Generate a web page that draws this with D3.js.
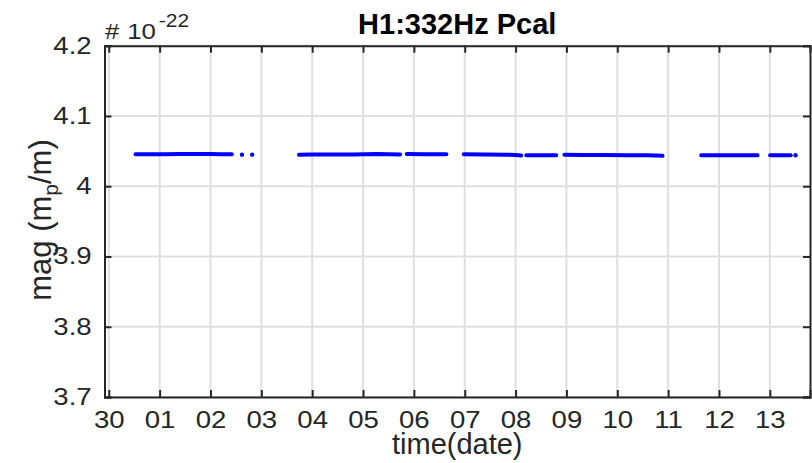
<!DOCTYPE html>
<html><head><meta charset="utf-8">
<script src="https://cdn.jsdelivr.net/npm/d3@7"></script>
<style>body{margin:0;background:#fff}svg{display:block}text{font-family:"Liberation Sans",Arial,Helvetica,sans-serif;fill:#262626}</style>
</head><body>
<script>
// days since Apr 30
const tickDays = [0,1,2,3,4,5,6,7,8,9,10,11,12,13];
const tickLabels = ["30","01","02","03","04","05","06","07","08","09","10","11","12","13"];
const yTicks = [3.7,3.8,3.9,4.0,4.1,4.2];
const yTickLabels = ["3.7","3.8","3.9","4","4.1","4.2"];
// segments of dense data (day, magnitude x1e-22)
const seg1 = [[0.525,4.0454],[0.8,4.0455],[1.1,4.0456],[1.4,4.0458],[1.74,4.0460],[2.0,4.0457],[2.2,4.0455],[2.42,4.0454]];
const seg2 = [[3.74,4.0449],[4.0,4.0451],[4.4,4.0452],[4.8,4.0453],[5.28,4.0458],[5.5,4.0455],[5.73,4.0452]];
const seg3 = [[5.86,4.0458],[6.2,4.0456],[6.64,4.0454]];
const seg4 = [[6.98,4.0454],[7.4,4.0453],[7.8,4.0449],[8.0,4.0444],[8.11,4.0436]];
const seg5 = [[8.21,4.0441],[8.5,4.0441],[8.80,4.0440]];
const seg6 = [[8.96,4.0447],[9.3,4.0444],[9.7,4.0443],[10.2,4.0442],[10.6,4.0440],[10.89,4.0432]];
const seg7 = [[11.65,4.0440],[12.0,4.0441],[12.4,4.0441],[12.76,4.0442]];
const seg8 = [[13.005,4.0440],[13.2,4.0440],[13.41,4.0440]];
const isolated = [[2.62,4.0449],[2.82,4.0449],[13.505,4.0440]];
const segments = [seg1,seg2,seg3,seg4,seg5,seg6,seg7,seg8];

const W=812,H=463;
const L=104.5,R=810,T=45.7,B=397;
const SX=1.2;
const x=d3.scaleLinear().domain([-0.084,13.79]).range([L,R]);
const y=d3.scaleLinear().domain([3.7,4.2]).range([B,T]);
const svg=d3.select("body").append("svg").attr("width",W).attr("height",H);

// grid
svg.append("g").selectAll("line").data(tickDays).join("line")
 .attr("x1",d=>x(d)).attr("x2",d=>x(d)).attr("y1",T).attr("y2",B)
 .attr("stroke","#dfdfdf").attr("stroke-width",2);
svg.append("g").selectAll("line").data(yTicks).join("line")
 .attr("y1",d=>y(d)).attr("y2",d=>y(d)).attr("x1",L).attr("x2",R)
 .attr("stroke","#dfdfdf").attr("stroke-width",2);

// data
const line=d3.line().x(d=>x(d[0])).y(d=>y(d[1]));
svg.append("g").selectAll("path").data(segments).join("path")
 .attr("d",line).attr("fill","none").attr("stroke","#0000ff")
 .attr("stroke-width",4).attr("stroke-linecap","round");
svg.append("g").selectAll("circle").data(isolated).join("circle")
 .attr("cx",d=>x(d[0])).attr("cy",d=>y(d[1])).attr("r",2.2).attr("fill","#0000ff");

// axes
const fs=23;
const xb=d3.axisBottom(x).tickValues(tickDays).tickFormat((d,i)=>tickLabels[i]).tickSize(-7).tickPadding(15);
const gx=svg.append("g").attr("transform",`translate(0,${B})`).call(xb);
const xt=d3.axisTop(x).tickValues(tickDays).tickFormat("").tickSize(-7);
const gxt=svg.append("g").attr("transform",`translate(0,${T})`).call(xt);
const yl=d3.axisLeft(y).tickValues(yTicks).tickFormat((d,i)=>yTickLabels[i]).tickSize(-7);
const gy=svg.append("g").attr("transform",`translate(${L},0)`).call(yl);
const yr=d3.axisRight(y).tickValues(yTicks).tickFormat("").tickSize(-7);
const gyr=svg.append("g").attr("transform",`translate(${R},0)`).call(yr);
[gx,gxt,gy,gyr].forEach(g=>{
  g.select(".domain").attr("stroke","#262626").attr("stroke-width",2);
  g.selectAll(".tick line").attr("stroke","#262626").attr("stroke-width",2);
  g.selectAll("text").attr("font-size",fs).attr("fill","#262626").style("font-family","Liberation Sans, Arial, sans-serif");
});
gx.selectAll(".tick text").attr("transform",`scale(${SX},1)`);
gy.selectAll(".tick text").attr("x",-12.8/SX).attr("transform",`scale(${SX},1)`);

// title
svg.append("text").attr("x",(L+R)/2).attr("y",34.3).attr("text-anchor","middle")
 .attr("font-size",29).attr("font-weight","bold").style("fill","#000").text("H1:332Hz Pcal");
// x label
svg.append("text").attr("x",(L+R)/2).attr("y",454).attr("text-anchor","middle")
 .attr("font-size",29).text("time(date)");
// y label
const ylab=svg.append("text").attr("transform",`translate(51,220) rotate(-90)`).attr("text-anchor","middle").attr("font-size",31);
ylab.append("tspan").text("mag (m");
ylab.append("tspan").attr("font-size",21).attr("dy",7).text("p");
ylab.append("tspan").attr("dy",-7).text("/m)");
// exponent
const ex=svg.append("text").attr("transform",`translate(105,39.3) scale(${SX},1)`).attr("font-size",21.5);
ex.append("tspan").text("#");
ex.append("tspan").attr("dx",6.5).text("10");
ex.append("tspan").attr("font-size",17.5).attr("dx",2.5).attr("dy",-12.6).text("-22");
</script>
</body></html>
